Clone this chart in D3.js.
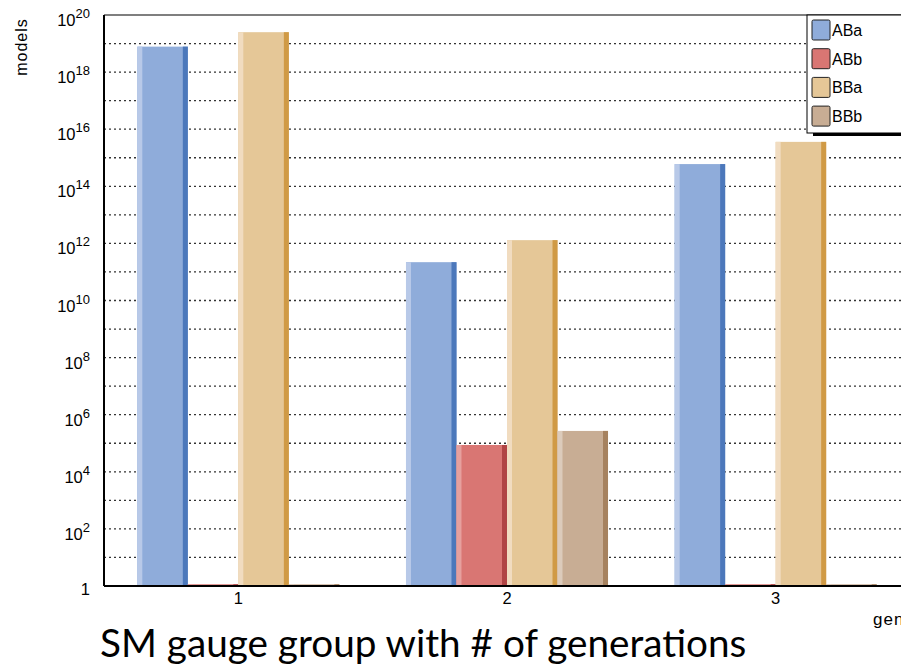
<!DOCTYPE html>
<html>
<head>
<meta charset="utf-8">
<script src="https://cdn.jsdelivr.net/npm/d3@7"></script>
<style>
  body { margin: 0; background: #fff; }
  svg text { font-family: "Liberation Sans", Helvetica, Arial, sans-serif; }
</style>
</head>
<body>
<div id="graphDiv"></div>
<script>
// data
var categories = ["1", "2", "3"];
var seriesNames = ["ABa", "ABb", "BBa", "BBb"];
var valuesABa = [7.8e18, 2.2e11, 6.0e14];
var valuesABb = [1.15, 8.7e4, 1.15];
var valuesBBa = [2.5e19, 1.3e12, 3.6e15];
var valuesBBb = [1.15, 2.7e5, 1.15];
var yTickExps = [0, 2, 4, 6, 8, 10, 12, 14, 16, 18, 20];

// main / light strip / dark strip colours per series
var colors = {
  ABa: ["#8facda", "#b8c9e8", "#4c78bb"],
  ABb: ["#d97673", "#e6a09e", "#b04444"],
  BBa: ["#e5c797", "#f1dcc0", "#d09a45"],
  BBb: ["#c8ad94", "#dccbbb", "#a6825f"]
};

var seriesValues = [valuesABa, valuesABb, valuesBBa, valuesBBb];
var graphData = [];
categories.forEach(function(c, i) {
  seriesNames.forEach(function(s, j) {
    graphData.push({cat: c, series: s, value: seriesValues[j][i]});
  });
});

var outerWidth = 901, outerHeight = 666;
var margin = {top: 15, left: 104},
    innerWidth = 806,
    innerHeight = 571;

var svg = d3.select("#graphDiv")
  .append("svg")
  .attr("width", outerWidth)
  .attr("height", outerHeight);

var g = svg.append("g")
  .attr("transform", "translate(" + margin.left + "," + margin.top + ")");

var x = d3.scaleBand()
  .domain(categories)
  .range([0, innerWidth])
  .paddingInner(0.248)
  .paddingOuter(0.124);

var xs = d3.scaleBand()
  .domain(seriesNames)
  .range([0, x.bandwidth()]);

var y = d3.scaleLog()
  .domain([1, 1e20])
  .range([innerHeight, 0]);

// dotted gridlines at every decade
var gridExps = d3.range(1, 20);
g.append("g")
  .selectAll("line")
  .data(gridExps)
  .enter()
  .append("line")
  .attr("x1", 0)
  .attr("x2", innerWidth)
  .attr("y1", function(d) { return y(Math.pow(10, d)); })
  .attr("y2", function(d) { return y(Math.pow(10, d)); })
  .attr("stroke", "#333")
  .attr("stroke-width", 1.3)
  .attr("stroke-dasharray", "2,3");

// top border
g.append("line")
  .attr("x1", 0).attr("x2", innerWidth)
  .attr("y1", 0).attr("y2", 0)
  .attr("stroke", "#000").attr("stroke-width", 1.2);

// bars: main fill with light left strip and dark right strip
var bars = g.selectAll(".bar")
  .data(graphData)
  .enter()
  .append("g")
  .attr("class", "bar")
  .attr("transform", function(d) { return "translate(" + (x(d.cat) + xs(d.series)) + ",0)"; });

var bw = xs.bandwidth(), strip = 5;
bars.append("rect")
  .attr("x", 0)
  .attr("width", bw)
  .attr("y", function(d) { return y(d.value); })
  .attr("height", function(d) { return innerHeight - y(d.value); })
  .attr("fill", function(d) { return colors[d.series][0]; });
bars.append("rect")
  .attr("x", 0)
  .attr("width", strip)
  .attr("y", function(d) { return y(d.value); })
  .attr("height", function(d) { return innerHeight - y(d.value); })
  .attr("fill", function(d) { return colors[d.series][1]; });
bars.append("rect")
  .attr("x", bw - strip)
  .attr("width", strip)
  .attr("y", function(d) { return y(d.value); })
  .attr("height", function(d) { return innerHeight - y(d.value); })
  .attr("fill", function(d) { return colors[d.series][2]; });

// axes lines
g.append("line")
  .attr("x1", 0).attr("x2", innerWidth)
  .attr("y1", innerHeight).attr("y2", innerHeight)
  .attr("stroke", "#000").attr("stroke-width", 2);
g.append("line")
  .attr("x1", 0).attr("x2", 0)
  .attr("y1", 0).attr("y2", innerHeight)
  .attr("stroke", "#000").attr("stroke-width", 2);

// y tick labels 10^n
var yt = g.append("g").selectAll("text")
  .data(yTickExps)
  .enter()
  .append("text")
  .attr("x", -14)
  .attr("y", function(d) { return y(Math.pow(10, d)) + (d === 0 ? 9 : 11); })
  .attr("text-anchor", "end")
  .style("font-size", "16.5px")
  .attr("fill", "#000");
yt.each(function(d) {
  var t = d3.select(this);
  if (d === 0) { t.text("1"); return; }
  t.append("tspan").text("10");
  t.append("tspan").attr("dy", -8).style("font-size", "13px").text(d);
});

// x tick labels
g.append("g").selectAll("text")
  .data(categories)
  .enter()
  .append("text")
  .attr("x", function(d) { return x(d) + x.bandwidth() / 2; })
  .attr("y", innerHeight + 18)
  .attr("text-anchor", "middle")
  .style("font-size", "16.5px")
  .text(function(d) { return d; });

// axis titles
svg.append("text")
  .attr("transform", "translate(27,47)rotate(-90)")
  .attr("text-anchor", "middle")
  .style("font-size", "16px")
  .style("letter-spacing", "1px")
  .text("models");
svg.append("text")
  .attr("x", 873)
  .attr("y", 625)
  .style("font-size", "17px")
  .style("letter-spacing", "1px")
  .text("generations");

// legend
var lg = svg.append("g").attr("transform", "translate(807,15)");
lg.append("rect").attr("x", 6).attr("y", 115).attr("width", 120).attr("height", 6).attr("fill", "#000");
lg.append("rect").attr("x", 0).attr("y", 0).attr("width", 120).attr("height", 118)
  .attr("fill", "#fff").attr("stroke", "#000").attr("stroke-width", 1);
var items = lg.selectAll(".item")
  .data(seriesNames)
  .enter()
  .append("g")
  .attr("transform", function(d, i) { return "translate(5," + (5 + i * 28.7) + ")"; });
items.append("rect")
  .attr("width", 18).attr("height", 20).attr("rx", 1.5)
  .attr("fill", function(d) { return colors[d][0]; })
  .attr("stroke", "#222").attr("stroke-width", 1);
items.append("text")
  .attr("x", 20).attr("y", 16)
  .style("font-size", "16px")
  .text(function(d) { return d; });

// title
svg.append("text")
  .attr("x", 100)
  .attr("y", 657)
  .style("font-family", "Lato, 'Open Sans', sans-serif")
  .style("font-size", "38.7px")
  .text("SM gauge group with # of generations");
</script>
</body>
</html>
